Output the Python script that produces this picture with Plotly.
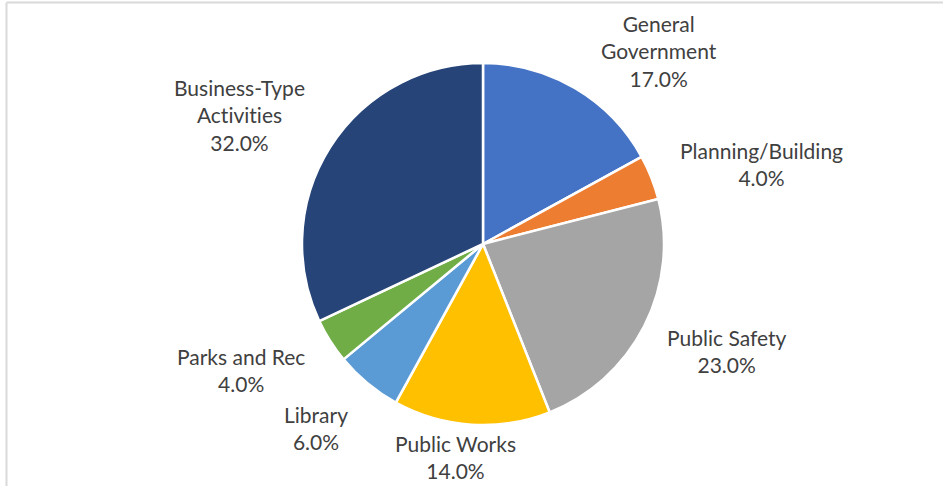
import plotly.graph_objects as go

categories = ["General<br>Government", "Planning/Building", "Public Safety", "Public Works",
              "Library", "Parks and Rec", "Business-Type<br>Activities"]
values = [17.0, 4.0, 23.0, 14.0, 6.0, 4.0, 32.0]
colors = ["#4472C4", "#ED7D31", "#A5A5A5", "#FFC000", "#5B9BD5", "#70AD47", "#264478"]

# label centre positions in pixels (x, y from top)
label_px = [(659, 51), (761, 164), (726, 351), (455, 457), (316, 428), (241, 370), (240, 115)]

W, H = 943, 486
cx, cy, r = 483, 244, 181

fig = go.Figure(go.Pie(
    labels=categories, values=values, sort=False, direction="clockwise", rotation=0,
    marker=dict(colors=colors, line=dict(color="white", width=2.5)),
    textinfo="none", hoverinfo="label+percent", showlegend=False,
    domain=dict(x=[(cx - r) / W, (cx + r) / W], y=[(H - cy - r) / H, (H - cy + r) / H]),
))

for lab, v, (px, py) in zip(categories, values, label_px):
    fig.add_annotation(x=px / W, y=1 - py / H, xref="paper", yref="paper",
                       text=f"{lab}<br>{v:.1f}%", showarrow=False,
                       xanchor="center", yanchor="middle",
                       font=dict(family="Lato", size=21, color="#404040"))

fig.add_shape(type="line", xref="paper", yref="paper", x0=6.5 / W, x1=1, y0=1 - 2.5 / H, y1=1 - 2.5 / H,
              line=dict(color="#D9D9D9", width=2))
fig.add_shape(type="line", xref="paper", yref="paper", x0=6.5 / W, x1=6.5 / W, y0=0, y1=1 - 2.5 / H,
              line=dict(color="#D9D9D9", width=2))

fig.update_layout(width=W, height=H, margin=dict(l=0, r=0, t=0, b=0),
                  paper_bgcolor="white", plot_bgcolor="white")
fig.write_html("out.html", config={"displayModeBar": False})

with open("out.html", encoding="utf-8") as f:
    html = f.read()
html = html.replace(
    "<head>",
    "<head><style>html,body{margin:0;padding:0;overflow:hidden;}"
    "text{font-variant-ligatures:none;font-feature-settings:'liga' 0;}</style>", 1)
with open("out.html", "w", encoding="utf-8") as f:
    f.write(html)
